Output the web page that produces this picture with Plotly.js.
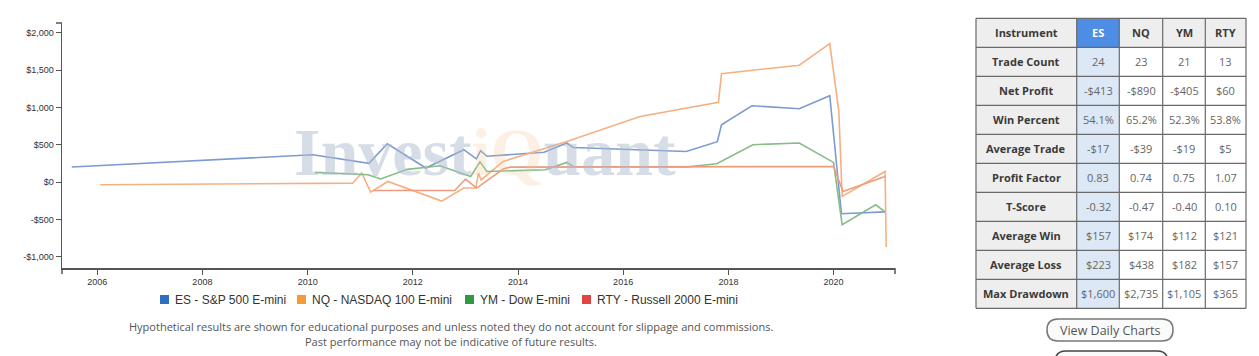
<!DOCTYPE html>
<html>
<head>
<meta charset="utf-8">
<script src="https://cdn.plot.ly/plotly-3.0.1.min.js"></script>
<style>html,body{margin:0;padding:0;background:#fff;}#chart{width:1259px;height:356px;}</style>
</head>
<body>
<div id="chart"></div>
<script>
// ---- series data ----
const esDates = ['2005-07-08','2010-02-06','2011-03-03','2011-07-08','2012-04-01','2012-12-20','2013-03-18','2013-04-16','2013-05-30','2014-07-01','2014-12-06','2015-01-19','2017-03-14','2017-10-16','2017-11-14','2018-06-13','2019-05-08','2019-12-06','2020-02-25','2020-12-24'];
const esValues = [201,366,250,513,188,433,310,420,345,400,523,462,410,540,768,1022,982,1156,-425,-400];

const nqDates = ['2006-01-22','2010-11-10','2011-01-12','2011-03-14','2011-07-12','2012-07-20','2012-12-20','2013-03-14','2013-04-01','2013-04-20','2013-09-20','2014-12-06','2016-04-27','2017-10-24','2017-11-14','2019-05-08','2019-12-06','2020-02-07','2020-03-01','2020-12-24','2021-01-01'];
const nqValues = [-36,-15,121,-134,8,-255,-80,-80,121,30,276,544,879,1067,1451,1565,1853,946,-193,142,-870];

const ymDates = ['2010-02-20','2011-02-25','2011-05-23','2011-11-24','2012-07-09','2013-02-06','2013-04-12','2013-05-30','2014-07-09','2014-12-06','2015-01-19','2017-03-14','2017-10-12','2018-06-20','2019-05-08','2020-01-01','2020-03-01','2020-10-20','2020-12-24'];
const ymValues = [130,98,42,170,218,75,270,142,165,263,209,201,245,500,523,263,-572,-304,-400];

const rtyDates = ['2011-04-01','2012-10-19','2013-01-01','2013-03-20','2013-09-20','2013-11-06','2020-01-01','2020-03-07','2020-12-24'];
const rtyValues = [-113,-113,40,-80,174,200,209,-126,75];

const seriesNames = ['ES - S&P 500 E-mini','NQ - NASDAQ 100 E-mini','YM - Dow E-mini','RTY - Russell 2000 E-mini'];

// ---- table data ----
const tableHeader = ['Instrument','ES','NQ','YM','RTY'];
const rowLabels = ['Trade Count','Net Profit','Win Percent','Average Trade','Profit Factor','T-Score','Average Win','Average Loss','Max Drawdown'];
const esStats  = ['24','-$413','54.1%','-$17','0.83','-0.32','$157','$223','$1,600'];
const nqStats  = ['23','-$890','65.2%','-$39','0.74','-0.47','$174','$438','$2,735'];
const ymStats  = ['21','-$405','52.3%','-$19','0.75','-0.40','$112','$182','$1,105'];
const rtyStats = ['13','$60','53.8%','$5','1.07','0.10','$121','$157','$365'];

// ---- texts ----
const footer1 = 'Hypothetical results are shown for educational purposes and unless noted they do not account for slippage and commissions.';
const footer2 = 'Past performance may not be indicative of future results.';
const buttonLabel = 'View Daily Charts';
const watermark = '<b>Invest<span style="color:rgba(245,195,150,0.5)">iQ</span>uant</b>';

// ---- layout geometry (pixels) ----
const W = 1259, H = 356, ML = 62, MR = 13, MT = 18, MB = 48;
const PW = W - ML - MR, PH = H - MT - MB;
const px = x => (x - ML) / PW;
const py = y => (H - MB - y) / PH;

const lineColors = ['rgb(125,155,208)','rgb(246,176,128)','rgb(135,188,135)','rgb(238,155,125)'];
const legendColors = ['#2f6fc2','#f5993a','#2f9a42','#e0453f'];

const lineData = [[esDates,esValues],[nqDates,nqValues],[ymDates,ymValues],[rtyDates,rtyValues]];
const traces = [];
lineData.forEach((d,i)=>{
  traces.push({type:'scatter',mode:'lines',name:seriesNames[i],x:d[0],y:d[1],line:{color:lineColors[i],width:1.6},showlegend:false,hoverinfo:'skip'});
});

const shapes = [];
const annotations = [];
const axisColor = '#555';

// ---- custom legend (square + label) ----
const legendSquareX = [160, 297, 465, 582];
seriesNames.forEach((n,i)=>{
  const x0 = legendSquareX[i];
  shapes.push({type:'rect',xref:'paper',yref:'paper',x0:px(x0),x1:px(x0+9),y0:py(295),y1:py(304),fillcolor:legendColors[i],line:{width:0}});
  annotations.push({xref:'paper',yref:'paper',x:px(x0+13),y:py(300),xanchor:'left',yanchor:'middle',showarrow:false,text:n,font:{family:'Liberation Sans',size:12,color:'#333'}});
});

// ---- stats table drawn with shapes + text ----
const colEdges = [976, 1076.7, 1119.3, 1162.7, 1205.3, 1246];
const rowTop = 18.3, rowH = 29;
const tableCols = [rowLabels, esStats, nqStats, ymStats, rtyStats];
const nRows = rowLabels.length + 1;
for (let c = 0; c < 5; c++) {
  for (let r = 0; r < nRows; r++) {
    let fill = '#ffffff';
    if (r === 0 || c === 0) fill = '#eeeeee';
    if (c === 1) fill = r === 0 ? '#4d8de4' : '#dde8f7';
    const y0 = rowTop + r*rowH, y1 = y0 + rowH;
    shapes.push({type:'rect',xref:'paper',yref:'paper',layer:'below',x0:px(colEdges[c]),x1:px(colEdges[c+1]),y0:py(y1),y1:py(y0),fillcolor:fill,line:{width:0}});
    const txt = r === 0 ? '<b>'+tableHeader[c]+'</b>' : (c === 0 ? '<b>'+tableCols[c][r-1]+'</b>' : tableCols[c][r-1]);
    let col = c === 0 || r === 0 ? '#3a3a3a' : '#666';
    if (r === 0 && c === 1) col = '#ffffff';
    annotations.push({xref:'paper',yref:'paper',x:px((colEdges[c]+colEdges[c+1])/2),y:py(y0+rowH/2),xanchor:'center',yanchor:'middle',showarrow:false,text:txt,font:{family:'Open Sans',size:11,color:col}});
  }
}
for (let r = 0; r <= nRows; r++) {
  const y = rowTop + r*rowH;
  shapes.push({type:'line',xref:'paper',yref:'paper',x0:px(colEdges[0]),x1:px(colEdges[5]),y0:py(y),y1:py(y),line:{color:'#6a6a6a',width:1.2}});
}
colEdges.forEach(x=>{
  shapes.push({type:'line',xref:'paper',yref:'paper',x0:px(x),x1:px(x),y0:py(rowTop),y1:py(rowTop+nRows*rowH),line:{color:'#6a6a6a',width:1.2}});
});

// ---- buttons ----
function roundRect(x0,y0,x1,y1,r){
  const rx = r / PW, ry = r / PH;
  const a = px(x0), b = px(x1), t = py(y0), btm = py(y1);
  return `M${a+rx},${t} L${b-rx},${t} Q${b},${t} ${b},${t-ry} L${b},${btm+ry} Q${b},${btm} ${b-rx},${btm} L${a+rx},${btm} Q${a},${btm} ${a},${btm+ry} L${a},${t-ry} Q${a},${t} ${a+rx},${t} Z`;
}
shapes.push({type:'path',xref:'paper',yref:'paper',path:roundRect(1047,319,1173,341,11),line:{color:'#777',width:1.5},fillcolor:'#fafafa'});
shapes.push({type:'path',xref:'paper',yref:'paper',path:roundRect(1055,351,1168,376,11),line:{color:'#444',width:1.5},fillcolor:'#fafafa'});
annotations.push({xref:'paper',yref:'paper',x:px(1110),y:py(330),xanchor:'center',yanchor:'middle',showarrow:false,text:buttonLabel,font:{family:'Open Sans',size:12.5,color:'#555'}});

// ---- axis end ticks ----
shapes.push({type:'line',xref:'paper',yref:'paper',x0:px(895),x1:px(895),y0:py(268),y1:py(274),line:{color:axisColor,width:1.5}});
shapes.push({type:'line',xref:'paper',yref:'paper',x0:px(56),x1:px(62),y0:py(23),y1:py(23),line:{color:axisColor,width:1.5}});
shapes.push({type:'line',xref:'paper',yref:'paper',x0:px(62),x1:px(62),y0:py(268),y1:py(274),line:{color:axisColor,width:1.5}});

// ---- watermark & footer ----
annotations.push({xref:'paper',yref:'paper',x:px(485),y:py(152),xanchor:'center',yanchor:'middle',showarrow:false,text:watermark,font:{family:'Liberation Serif',size:68,color:'rgba(175,188,206,0.5)'}});
annotations.push({xref:'paper',yref:'paper',x:px(451),y:py(326),xanchor:'center',yanchor:'middle',showarrow:false,text:footer1,font:{family:'Open Sans',size:11,color:'#555'}});
annotations.push({xref:'paper',yref:'paper',x:px(451),y:py(341),xanchor:'center',yanchor:'middle',showarrow:false,text:footer2,font:{family:'Open Sans',size:11,color:'#555'}});

const layout = {
  width:W,height:H,
  margin:{l:ML,r:MR,t:MT,b:MB,pad:0},
  paper_bgcolor:'#fff',plot_bgcolor:'rgba(0,0,0,0)',
  font:{family:'Liberation Sans',color:'#333'},
  showlegend:false,
  xaxis:{
    type:'date',domain:[0,px(895)],range:['2005-05-01','2021-03-03'],
    tick0:'2006-01-01',dtick:'M24',tickformat:'%Y',
    showgrid:false,zeroline:false,showline:true,linecolor:axisColor,linewidth:1.5,
    ticks:'outside',ticklen:5,tickcolor:axisColor,tickfont:{size:9,color:'#333'},anchor:'y'
  },
  yaxis:{
    domain:[py(268),py(23)],range:[-1151,2130],
    tickvals:[-1000,-500,0,500,1000,1500,2000],
    ticktext:['-$1,000','-$500','$0','$500','$1,000','$1,500','$2,000'],
    showgrid:false,zeroline:false,showline:true,linecolor:axisColor,linewidth:1.5,
    ticks:'outside',ticklen:5,tickcolor:axisColor,tickfont:{size:9,color:'#333'},anchor:'x'
  },
  annotations:annotations,
  shapes:shapes
};

Plotly.newPlot('chart',traces,layout,{staticPlot:true,displayModeBar:false});
</script>
</body>
</html>
